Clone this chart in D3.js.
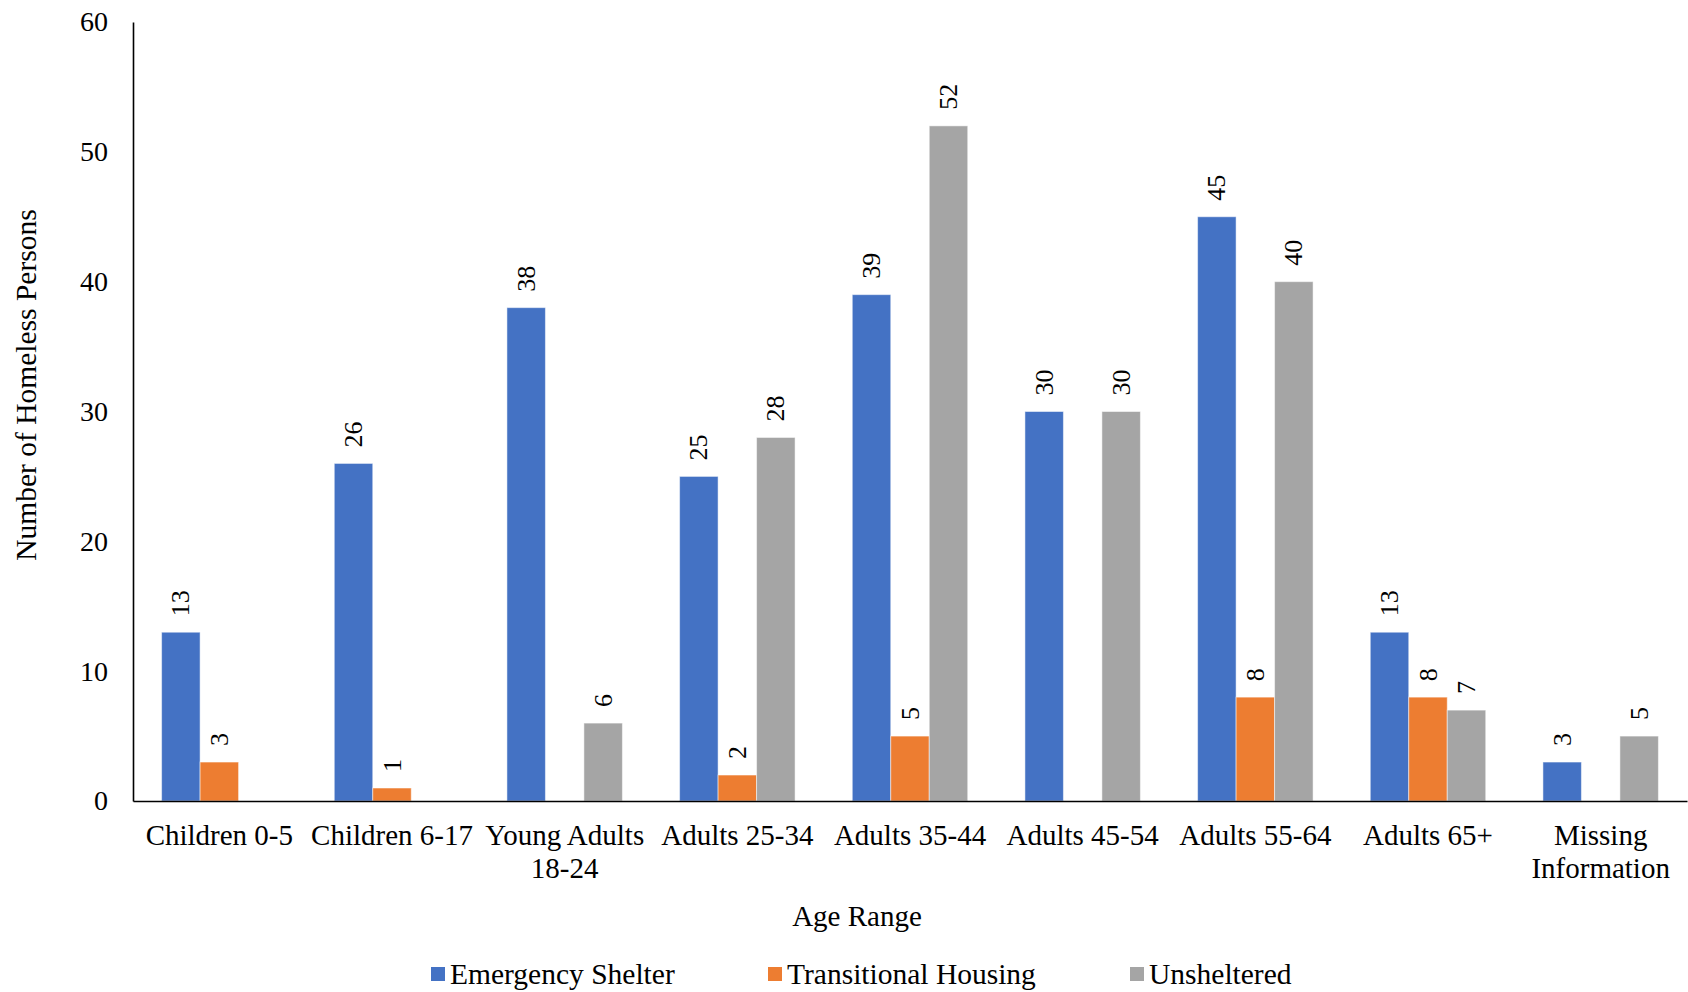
<!DOCTYPE html>
<html>
<head>
<meta charset="utf-8">
<script src="https://cdn.jsdelivr.net/npm/d3@7"></script>
<style>
  html, body { margin: 0; padding: 0; background: #fff; }
  svg { display: block; }
  svg text { font-family: "Liberation Serif", "Times New Roman", serif !important; }
</style>
</head>
<body>
<svg id="chart" width="1688" height="992"></svg>
<script>
const categories = ["Children 0-5", "Children 6-17", "Young Adults 18-24", "Adults 25-34", "Adults 35-44", "Adults 45-54", "Adults 55-64", "Adults 65+", "Missing Information"];
const categoryLines = [["Children 0-5"], ["Children 6-17"], ["Young Adults", "18-24"], ["Adults 25-34"], ["Adults 35-44"], ["Adults 45-54"], ["Adults 55-64"], ["Adults 65+"], ["Missing", "Information"]];
const seriesNames = ["Emergency Shelter", "Transitional Housing", "Unsheltered"];
const emergencyShelter = [13, 26, 38, 25, 39, 30, 45, 13, 3];
const transitionalHousing = [3, 1, null, 2, 5, null, 8, 8, null];
const unsheltered = [null, null, 6, 28, 52, 30, 40, 7, 5];
const yTicks = [0, 10, 20, 30, 40, 50, 60];
const colors = ["#4472C4", "#ED7D31", "#A5A5A5"];

(function () {
const seriesValues = [emergencyShelter, transitionalHousing, unsheltered];
const svg = d3.select("#chart");

const mLeft = 133, mRight = 1687, mTop = 22, mBottom = 801;

const x0 = d3.scaleBand().domain(categories).range([mLeft, mRight]).padding(0);
const x1 = d3.scaleBand().domain(seriesNames).range([0, x0.bandwidth()]).paddingInner(0).paddingOuter(0.743);
const y = d3.scaleLinear().domain([0, 60]).range([mBottom, mTop]);

const data = [];
categories.forEach((c, i) => {
  seriesNames.forEach((s, j) => {
    const v = seriesValues[j][i];
    if (v !== null && v !== undefined) data.push({ c, s, v, j });
  });
});

svg.append("g").selectAll("rect").data(data).join("rect")
  .attr("x", d => x0(d.c) + x1(d.s))
  .attr("y", d => y(d.v))
  .attr("width", x1.bandwidth())
  .attr("height", d => y(0) - y(d.v))
  .attr("fill", d => colors[d.j])
  .attr("stroke", "#ffffff")
  .attr("stroke-opacity", 0.5)
  .attr("stroke-width", 1);

svg.append("g").selectAll("text").data(data).join("text")
  .attr("transform", d => `translate(${x0(d.c) + x1(d.s) + x1.bandwidth() / 2},${y(d.v) - 16}) rotate(-90)`)
  .attr("text-anchor", "start")
  .attr("dominant-baseline", "central")
  .attr("font-size", 26)
  .attr("fill", "#000")
  .text(d => d.v);

const yAxis = d3.axisLeft(y).tickValues(yTicks).tickSize(0).tickPadding(25);
const gy = svg.append("g").attr("transform", `translate(${mLeft},0)`).call(yAxis);
gy.select(".domain").attr("stroke", "#000").attr("stroke-width", 1.6);
gy.selectAll("text").attr("font-size", 28).attr("fill", "#000");

const xAxis = d3.axisBottom(x0).tickSize(0).tickFormat(() => "");
const gx = svg.append("g").attr("transform", `translate(0,${mBottom})`).call(xAxis);
gx.select(".domain").attr("stroke", "#000").attr("stroke-width", 1.6);

const catG = svg.append("g");
categories.forEach((c, i) => {
  const t = catG.append("text")
    .attr("x", x0(c) + x0.bandwidth() / 2)
    .attr("y", 845)
    .attr("text-anchor", "middle")
    .attr("font-size", 29)
    .attr("fill", "#000");
  categoryLines[i].forEach((line, k) => {
    t.append("tspan").attr("x", x0(c) + x0.bandwidth() / 2).attr("dy", k === 0 ? 0 : 33).text(line);
  });
});

svg.append("text")
  .attr("x", 857).attr("y", 926)
  .attr("text-anchor", "middle")
  .attr("font-size", 29)
  .attr("fill", "#000")
  .text("Age Range");

svg.append("text")
  .attr("transform", "translate(26,385) rotate(-90)")
  .attr("text-anchor", "middle")
  .attr("dominant-baseline", "central")
  .attr("font-size", 29.5)
  .attr("fill", "#000")
  .text("Number of Homeless Persons");

const legendX = [431, 768, 1130];
const legend = svg.append("g");
seriesNames.forEach((s, j) => {
  legend.append("rect")
    .attr("x", legendX[j]).attr("y", 967)
    .attr("width", 14).attr("height", 14)
    .attr("fill", colors[j]);
  legend.append("text")
    .attr("x", legendX[j] + 19).attr("y", 984)
    .attr("font-size", 29.5)
    .attr("fill", "#000")
    .text(s);
});
})();
</script>
</body>
</html>
